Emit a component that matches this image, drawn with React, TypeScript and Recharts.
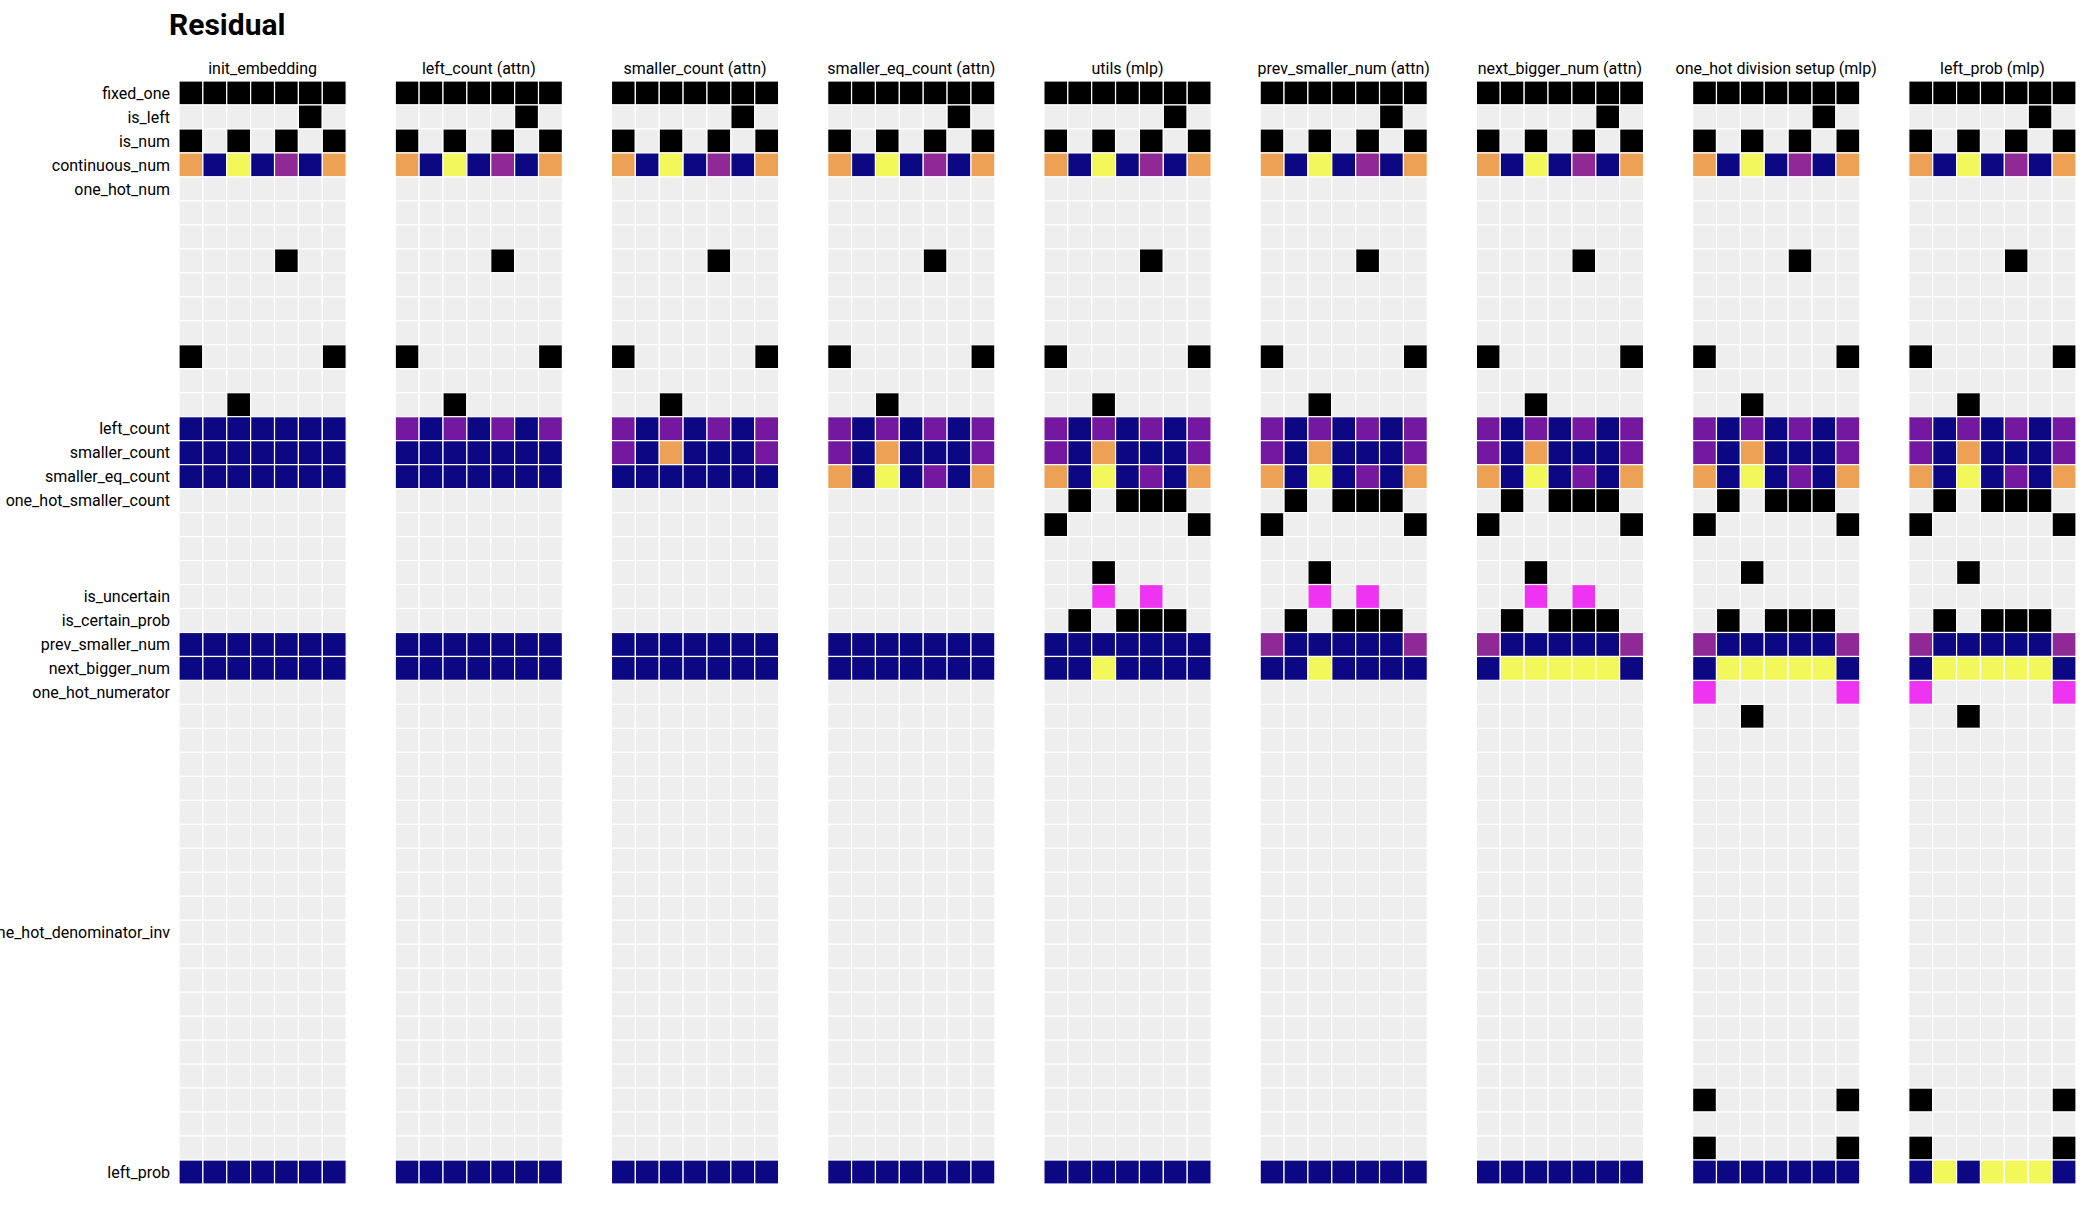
import { Scatter, ScatterChart, XAxis, YAxis } from "recharts";

const panelTitles = [
  "init_embedding",
  "left_count (attn)",
  "smaller_count (attn)",
  "smaller_eq_count (attn)",
  "utils (mlp)",
  "prev_smaller_num (attn)",
  "next_bigger_num (attn)",
  "one_hot division setup (mlp)",
  "left_prob (mlp)",
];

// first residual row of each feature block
const rowLabels: [number, string][] = [
  [0, "fixed_one"],
  [1, "is_left"],
  [2, "is_num"],
  [3, "continuous_num"],
  [4, "one_hot_num"],
  [14, "left_count"],
  [15, "smaller_count"],
  [16, "smaller_eq_count"],
  [17, "one_hot_smaller_count"],
  [21, "is_uncertain"],
  [22, "is_certain_prob"],
  [23, "prev_smaller_num"],
  [24, "next_bigger_num"],
  [25, "one_hot_numerator"],
  [35, "one_hot_denominator_inv"],
  [45, "left_prob"],
];

// cell codes: . empty, k one, b low, p / q mid, o high, y max, g half
const embedRows: Record<number, string> = {
  0: "kkkkkkk",
  1: ".....k.",
  2: "k.k.k.k",
  3: "obybqbo",
  7: "....k..",
  11: "k.....k",
  13: "..k....",
};

const initRows: Record<number, string> = { 14: "bbbbbbb", 15: "bbbbbbb", 16: "bbbbbbb", 23: "bbbbbbb", 24: "bbbbbbb", 45: "bbbbbbb" };
const leftCountRows: Record<number, string> = { ...initRows, 14: "pbpbpbp" };
const smallerRows: Record<number, string> = { ...leftCountRows, 15: "pbobbbp" };
const smallerEqRows: Record<number, string> = { ...smallerRows, 16: "obybpbo" };
const utilsRows: Record<number, string> = {
  ...smallerEqRows,
  17: ".k.kkk.",
  18: "k.....k",
  20: "..k....",
  21: "..g.g..",
  22: ".k.kkk.",
  24: "bbybbbb",
};
const prevSmallerRows: Record<number, string> = { ...utilsRows, 23: "qbbbbbq" };
const nextBiggerRows: Record<number, string> = { ...prevSmallerRows, 24: "byyyyyb" };
const divisionRows: Record<number, string> = {
  ...nextBiggerRows,
  21: ".......",
  25: "g.....g",
  26: "..k....",
  42: "k.....k",
  44: "k.....k",
};
const leftProbRows: Record<number, string> = { ...divisionRows, 45: "bybyyyb" };

const panelRows = [
  initRows,
  leftCountRows,
  smallerRows,
  smallerEqRows,
  utilsRows,
  prevSmallerRows,
  nextBiggerRows,
  divisionRows,
  leftProbRows,
];

const cellColors: Record<string, string> = {
  ".": "#eeeeee",
  k: "#000000",
  b: "#0c0782",
  p: "#7418a0",
  q: "#8f2996",
  o: "#eda155",
  y: "#f2f75a",
  g: "#ee33f2",
};

const ROWS = 46;
const COLS = 7;
const STRIDE = 9.054;
const X_MAX = STRIDE * (panelTitles.length - 1) + COLS;

const W = 2098;
const H = 1206;
const PLOT_LEFT = 179;
const PLOT_RIGHT = 22;
const PLOT_TOP = 81;
const PLOT_BOTTOM = 22;
const TOP_AXIS_H = 30;
const CELL_W = (W - PLOT_LEFT - PLOT_RIGHT) / X_MAX;
const CELL_H = (H - PLOT_TOP - PLOT_BOTTOM) / ROWS;

const cells = panelRows.flatMap((rows, p) =>
  Array.from({ length: ROWS }, (_, r) => {
    const line = embedRows[r] ?? rows[r] ?? ".......";
    return line.split("").map((code, c) => ({ x: p * STRIDE + c + 0.5, y: r + 0.5, code }));
  }).flat()
);

const panelTicks = panelTitles.map((_, p) => p * STRIDE + COLS / 2);
const rowTicks = rowLabels.map(([r]) => r + 0.5);

function Cell(props: any) {
  const { cx, cy, payload } = props;
  return (
    <rect
      x={cx - CELL_W / 2}
      y={cy - CELL_H / 2}
      width={CELL_W}
      height={CELL_H}
      fill={cellColors[payload.code]}
      stroke="#ffffff"
      strokeWidth={1.2}
    />
  );
}

export default function App() {
  return (
    <div style={{ position: "absolute", left: 0, top: 0, width: W, height: H, background: "#fff", fontFamily: "Roboto" }}>
      <div
        style={{ position: "absolute", left: 169, top: 10, fontSize: 30, lineHeight: "30px", fontWeight: 700, color: "#000" }}
      >
        Residual
      </div>
      <ScatterChart
        width={W}
        height={H}
        margin={{ top: PLOT_TOP - TOP_AXIS_H, right: PLOT_RIGHT, bottom: PLOT_BOTTOM, left: 0 }}
      >
        <XAxis
          type="number"
          dataKey="x"
          orientation="top"
          height={TOP_AXIS_H}
          domain={[0, X_MAX]}
          ticks={panelTicks}
          interval={0}
          tickFormatter={(v: number) => panelTitles[panelTicks.findIndex((t) => Math.abs(t - v) < 0.01)] ?? ""}
          axisLine={false}
          tickLine={false}
          tickSize={0}
          tickMargin={7}
          tick={{ fill: "#000", fontSize: 16, fontFamily: "Roboto" }}
        />
        <YAxis
          type="number"
          dataKey="y"
          reversed
          width={PLOT_LEFT}
          domain={[0, ROWS]}
          ticks={rowTicks}
          interval={0}
          tickFormatter={(v: number) => rowLabels.find(([r]) => Math.abs(r + 0.5 - v) < 0.01)?.[1] ?? ""}
          axisLine={false}
          tickLine={false}
          tickSize={0}
          tickMargin={9}
          tick={{ fill: "#000", fontSize: 16, fontFamily: "Roboto" }}
        />
        <Scatter data={cells} shape={Cell} isAnimationActive={false} />
      </ScatterChart>
    </div>
  );
}
